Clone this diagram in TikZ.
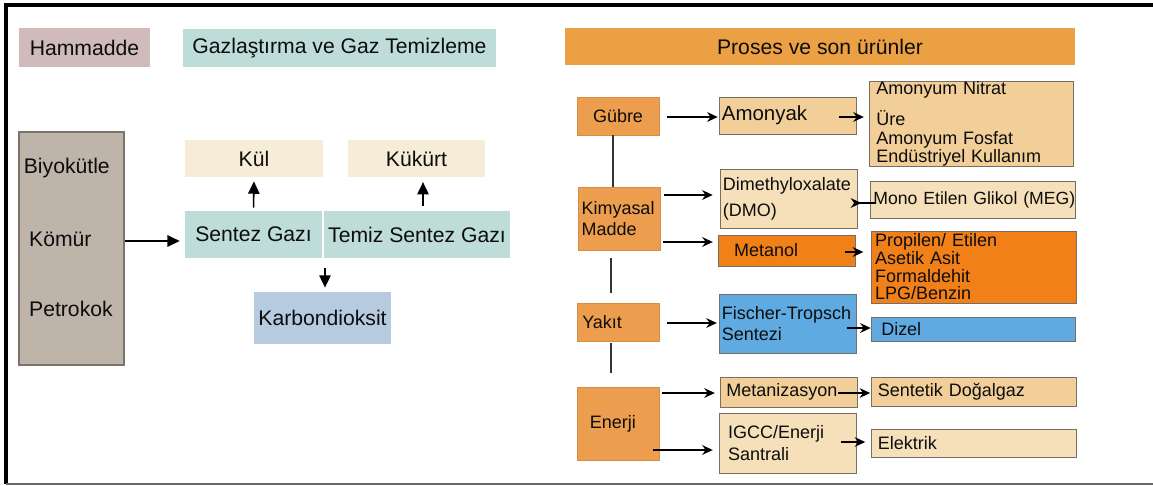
\documentclass[tikz,border=0pt]{standalone}
\usepackage{fontspec}
\setmainfont{Liberation Sans}
\usepackage{tikz}
\usetikzlibrary{arrows.meta}

\definecolor{hamC}{RGB}{208,186,186}
\definecolor{gazC}{RGB}{190,220,216}
\definecolor{prosC}{RGB}{236,160,68}
\definecolor{rawC}{RGB}{190,180,170}
\definecolor{rawE}{RGB}{125,115,105}
\definecolor{atikC}{RGB}{247,236,216}
\definecolor{karbonC}{RGB}{182,202,224}
\definecolor{catC}{RGB}{236,158,78}
\definecolor{tanC}{RGB}{242,206,152}
\definecolor{beigeC}{RGB}{246,224,186}
\definecolor{metC}{RGB}{242,128,24}
\definecolor{ftC}{RGB}{96,170,226}
\definecolor{edgeC}{RGB}{120,110,100}

\def\px{0.567pt}

\tikzset{
	bigtext/.style={font=\fontsize{12}{14}\selectfont, text=black!95, inner sep=0pt},
	smalltext/.style={font=\fontsize{10.2}{12.2}\selectfont, text=black!95},
	catbox/.style={smalltext, fill=catC, draw=catC!90!black, line width=0.3pt, text width=42.5pt, inner xsep=2pt, inner ysep=0pt, align=center, minimum width=82*\px},
	midbox/.style={smalltext, draw=edgeC, line width=0.5pt, text width=75pt, inner xsep=1.5pt, inner ysep=0pt, align=left},
	prodbox/.style={smalltext, draw=edgeC, line width=0.5pt, text width=112pt, inner xsep=2pt, inner ysep=0pt, align=left},
	arr/.style={-{Stealth[length=6pt,width=5.5pt]}, line width=0.9pt},
	bigarr/.style={-{Triangle[length=7pt,width=6.5pt]}, line width=0.9pt},
	link/.style={line width=1pt, black!80}
}

\begin{document}
\begin{tikzpicture}[x=\px, y=-\px]
	\useasboundingbox (0,0) rectangle (1153,485);
	\draw[line width=1.8pt] (6,484) -- (6,5) -- (1153,5);
	\draw[black!60, line width=0.6pt] (6,484) -- (1153,484);
	
	\node[bigtext, fill=hamC, minimum width=131*\px, minimum height=39*\px] (hammadde) at (84.5,47.5) {Hammadde};
	\node[bigtext, fill=gazC, minimum width=313*\px, minimum height=38*\px] (gazlastirma) at (339.5,48) {Gazlaştırma ve Gaz Temizleme};
	\node[bigtext, fill=prosC, minimum width=510*\px, minimum height=37*\px] (proses) at (820,46.5) {Proses ve son ürünler};
	
	\node[fill=rawC, draw=rawE, line width=0.6pt, minimum width=105*\px, minimum height=233*\px] (hammaddekutu) at (71.5,248.5) {};
	\node[bigtext, text width=54pt, align=left] (hamliste) at ([yshift=6.2pt]hammaddekutu.center) {Biyokütle\\[27pt]\hspace*{3pt}Kömür\\[26pt]\hspace*{3pt}Petrokok};
	
	\node[bigtext, fill=atikC, minimum width=138*\px, minimum height=37*\px] (kul) at (254,158.5) {Kül};
	\node[bigtext, fill=atikC, minimum width=137*\px, minimum height=37*\px] (kukurt) at (416.5,158.5) {Kükürt};
	\node[bigtext, fill=gazC, minimum width=137*\px, minimum height=47*\px] (sentez) at (253.5,234.5) {Sentez Gazı};
	\node[bigtext, fill=gazC, minimum width=186*\px, minimum height=47*\px] (temiz) at (417,234.5) {Temiz Sentez Gazı};
	\node[bigtext, fill=karbonC, minimum width=137*\px, minimum height=52*\px] (karbon) at (322.5,318) {Karbondioksit};
	
	\draw[bigarr, shorten >=2.8pt] (hammaddekutu.east |- 0,241) -- (sentez.west |- 0,241);
	\draw[bigarr, shorten <=1.7pt, shorten >=2.3pt] (sentez.north) -- (kul.south);
	\draw[bigarr, shorten <=2.8pt, shorten >=2.7pt] (temiz.north -| 423,0) -- (kukurt.south -| 423,0);
	\draw[bigarr, shorten <=5.7pt, shorten >=2.3pt] (sentez.south -| 325,0) -- (karbon.north -| 325,0);
	
	\node[catbox, minimum height=38*\px] (gubre) at (618,116) {Gübre};
	\node[catbox, align=left, minimum height=63*\px] (kimyasal) at (619,218.5) {Kimyasal\\Madde};
	\node[catbox, align=left, minimum height=38*\px] (yakit) at (618,322) {\hspace*{1pt}Yakıt};
	\node[catbox, align=left, minimum height=73*\px] (enerji) at (618.5,423.5) {\hspace*{5pt}Enerji};
	
	\node[midbox, fill=tanC, minimum height=37*\px, font=\fontsize{11.6}{13}\selectfont] (amonyak) at (788,115.5) {Amonyak};
	\node[midbox, fill=beigeC, minimum height=59*\px] (dmo) at (789,198.5) {Dimethyloxalate\\[2.5pt](DMO)};
	\node[midbox, fill=metC, minimum height=31*\px] (metanol) at (787,250.5) {\hspace*{7.5pt}Metanol};
	\node[midbox, fill=ftC, minimum height=59*\px] (ft) at (788,323.5) {\mbox{Fischer-Tropsch}\\Sentezi};
	\node[midbox, fill=tanC, minimum height=30*\px] (metanizasyon) at (789,392) {\hspace*{2pt}Metanizasyon};
	\node[midbox, fill=beigeC, minimum height=60*\px] (igcc) at (788,443) {\hspace*{3.5pt}IGCC/Enerji\\\hspace*{3.5pt}Santrali};
	
	\node[prodbox, fill=tanC, text width=108pt, inner xsep=4pt, minimum height=84*\px, font=\fontsize{10.2}{10.5}\selectfont] (urunA) at (971.5,124) {Amonyum Nitrat\\[6pt]Üre\\Amonyum Fosfat\\Endüstriyel Kullanım};
	\node[prodbox, fill=beigeC, text width=113pt, inner xsep=1.5pt, minimum height=37*\px, font=\fontsize{10}{12}\selectfont] (meg) at (973,199.5) {\mbox{Mono Etilen Glikol (MEG)}};
	\node[prodbox, fill=metC, minimum height=72*\px, font=\fontsize{10.2}{10}\selectfont] (urunM) at (974,267) {Propilen/ Etilen\\Asetik Asit\\Formaldehit\\LPG/Benzin};
	\node[prodbox, fill=ftC, minimum height=24*\px] (dizel) at (973.5,329) {\hspace*{3.7pt}Dizel};
	\node[prodbox, fill=tanC, minimum height=29*\px] (sng) at (974,391.5) {\hspace*{1.5pt}Sentetik Doğalgaz};
	\node[prodbox, fill=beigeC, minimum height=28*\px] (elektrik) at (974,443) {\hspace*{1.5pt}Elektrik};
	
	\draw[arr, shorten <=4.5pt, shorten >=0.6pt] (gubre.east |- 0,117) -- (amonyak.west |- 0,117);
	\draw[arr, shorten <=-10.2pt, shorten >=2.8pt] (amonyak.east |- 0,117) -- (urunA.west |- 0,117);
	\draw[arr, shorten <=2.3pt, shorten >=4pt] (kimyasal.east |- 0,195) -- (dmo.west |- 0,195);
	\draw[arr, shorten <=-10.2pt, shorten >=5.1pt] (dmo.east |- 0,203) -- (meg.west |- 0,203);
	\draw[arr, shorten <=1.7pt, shorten >=2.8pt] (kimyasal.east |- 0,242) -- (metanol.west |- 0,242);
	\draw[arr, shorten <=-6.2pt, shorten >=4.5pt] (metanol.east |- 0,252) -- (urunM.west |- 0,252);
	\draw[arr, shorten <=4.5pt, shorten >=1.1pt] (yakit.east |- 0,323) -- (ft.west |- 0,323);
	\draw[arr, shorten <=-5.7pt] (ft.east |- 0,328) -- (dizel.west |- 0,328);
	\draw[arr, shorten <=1.1pt, shorten >=2.8pt] (enerji.east |- 0,393) -- (metanizasyon.west |- 0,393);
	\draw[arr, shorten <=-11.3pt, shorten >=0.6pt] (metanizasyon.east |- 0,393) -- (sng.west |- 0,393);
	\draw[arr, shorten <=-4pt, shorten >=3.4pt] (enerji.east |- 0,450) -- (igcc.west |- 0,450);
	\draw[arr, shorten <=-9pt, shorten >=3.4pt] (igcc.east |- 0,442) -- (elektrik.west |- 0,442);
	
	\draw[link] (gubre.south -| 613,0) -- (kimyasal.north -| 613,0);
	\draw[link, shorten <=4.5pt, shorten >=5.7pt] (kimyasal.south -| 611,0) -- (yakit.north -| 611,0);
	\draw[link, shorten <=1.1pt, shorten >=7.9pt] (yakit.south -| 611,0) -- (enerji.north -| 611,0);
\end{tikzpicture}
\end{document}
